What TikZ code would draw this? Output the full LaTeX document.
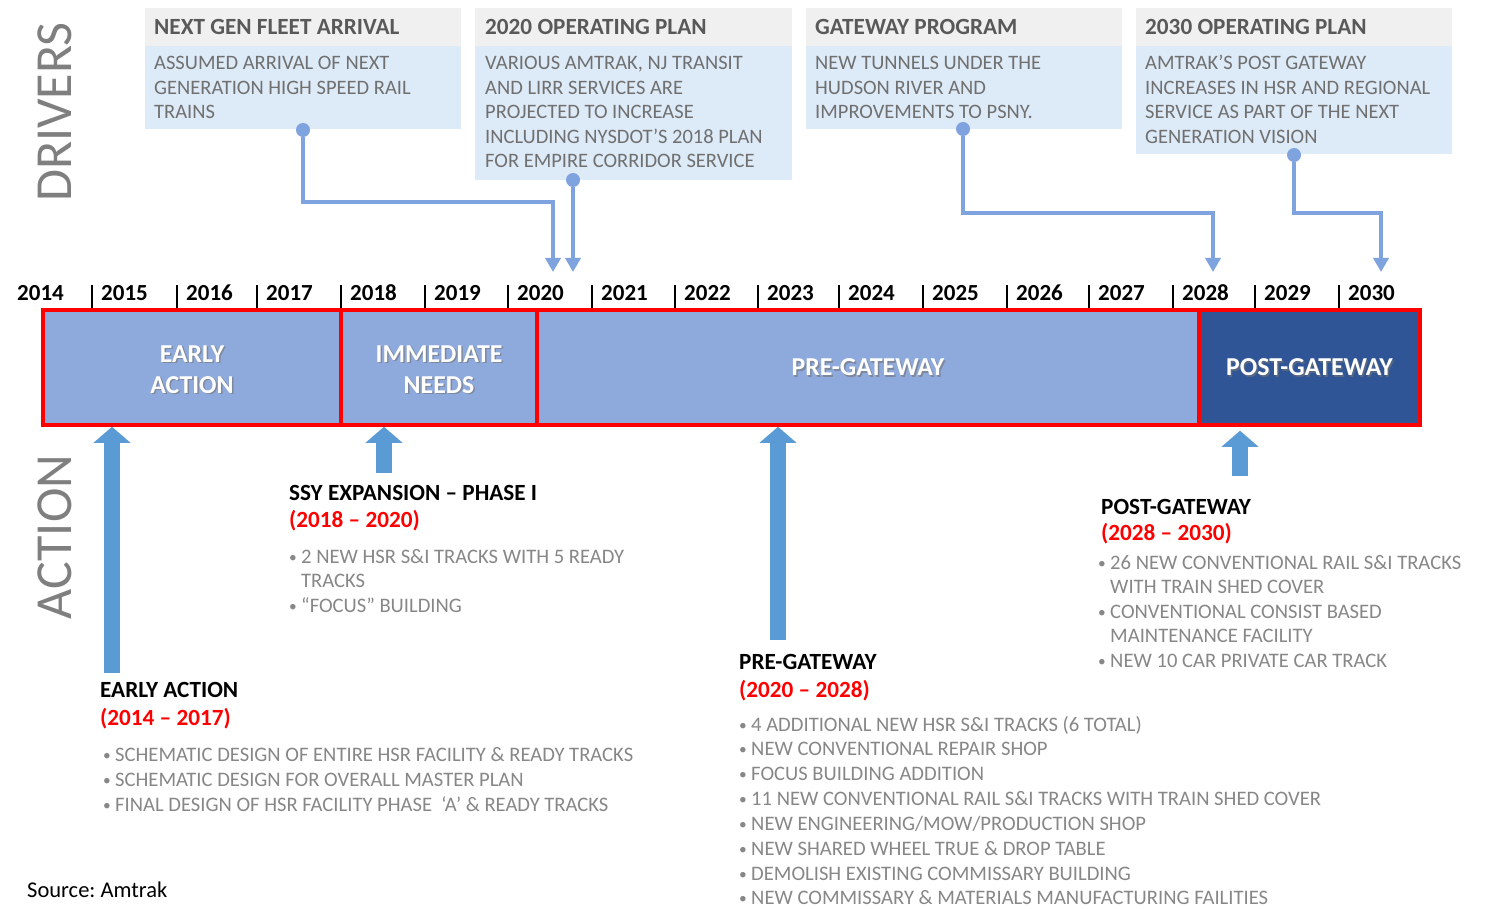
\documentclass[tikz,border=0pt]{standalone}
\usepackage{fontspec}
\setmainfont{Carlito}
\usetikzlibrary{arrows.meta}
\definecolor{hdrbg}{HTML}{F0F0F0}
\definecolor{bodybg}{HTML}{DDEAF7}
\definecolor{hdrtx}{HTML}{595959}
\definecolor{bodytx}{HTML}{707070}
\definecolor{conn}{HTML}{7FA3DF}
\definecolor{tlight}{HTML}{8EA9DB}
\definecolor{tdark}{HTML}{2F5597}
\definecolor{barrow}{HTML}{5B9BD5}
\definecolor{bultx}{HTML}{878787}
\definecolor{sidetx}{HTML}{7F7F7F}
\definecolor{tred}{HTML}{FF0000}
\newcommand\bul{\makebox[12pt][l]{\raisebox{1pt}{\scalebox{0.75}{\textbullet}}}}
\newcommand\bsp{\hspace*{12pt}}
\newcommand\tlines[6]{\foreach \lineitem [count=\i] in {#6} {\node[#5, anchor=base west] (#1\i) at (#2, {#3+#4*(\i-1)}) {\lineitem};}}
\frenchspacing
\begin{document}
\begin{tikzpicture}[x=1pt,y=-1pt,
  hdr/.style={font=\fontsize{23.2}{27}\selectfont\bfseries, text=hdrtx, inner sep=0},
  drv/.style={font=\fontsize{20.5}{25}\selectfont, text=bodytx, inner sep=0},
  yr/.style={font=\fontsize{23}{26}\selectfont\bfseries, inner sep=0},
  ttl/.style={font=\fontsize{23.2}{27}\selectfont\bfseries, inner sep=0},
  redttl/.style={ttl, text=tred},
  bultext/.style={font=\fontsize{20.6}{25}\selectfont, text=bultx, inner sep=0},
  phase/.style={font=\fontsize{25.8}{31}\selectfont\bfseries, text=white, align=center, inner sep=0},
  phaseshadow/.style={phase, text=black!55, opacity=0.6},
  seg/.style={draw=tred, line width=3.5pt, minimum height=115pt, inner sep=0},
  side/.style={font=\fontsize{52}{60}\selectfont, text=sidetx, rotate=90, inner sep=0},
  dot/.style={circle, fill=conn, minimum size=14pt, inner sep=0},
  connector/.style={draw=conn, line width=4pt, -{Triangle[width=15pt,length=14pt]}},
  blockarrow/.style={draw=barrow, line width=16pt, -{Triangle[width=36pt,length=16pt]}},
  tick/.style={line width=2.5pt}
]
\fill[white] (0,0) rectangle (1493,909);
\useasboundingbox (0,0) rectangle (1493,909);

% side labels
\node[side] (drivers) at (55,112) {DRIVERS};
\node[side] (action) at (55,537) {ACTION};

% driver boxes
\foreach \xa/\xb/\yb in {145/461/129, 475/792/180, 806/1122/129, 1136/1452/154} {
  \fill[hdrbg] (\xa,8) rectangle (\xb,46);
  \fill[bodybg] (\xa,46) rectangle (\xb,\yb);
}
\node[hdr, anchor=base west] (h1) at (154,35) {NEXT GEN FLEET ARRIVAL};
\node[hdr, anchor=base west] (h2) at (485,35) {2020 OPERATING PLAN};
\node[hdr, anchor=base west] (h3) at (815,35) {GATEWAY PROGRAM};
\node[hdr, anchor=base west] (h4) at (1145,35) {2030 OPERATING PLAN};
\tlines{da}{154}{70}{24.5}{drv}{{ASSUMED ARRIVAL OF NEXT},{GENERATION HIGH SPEED RAIL},{TRAINS}}
\tlines{db}{485}{70}{24.5}{drv}{{VARIOUS AMTRAK, NJ TRANSIT},{AND LIRR SERVICES ARE},{PROJECTED TO INCREASE},{INCLUDING NYSDOT’S 2018 PLAN},{FOR EMPIRE CORRIDOR SERVICE}}
\tlines{dc}{815}{70}{24.5}{drv}{{NEW TUNNELS UNDER THE},{HUDSON RIVER AND},{IMPROVEMENTS TO PSNY.}}
\tlines{dd}{1145}{70}{24.5}{drv}{{AMTRAK’S POST GATEWAY},{INCREASES IN HSR AND REGIONAL},{SERVICE AS PART OF THE NEXT},{GENERATION VISION}}

% dots
\node[dot] (d1) at (303,130) {};
\node[dot] (d2) at (573,180) {};
\node[dot] (d3) at (963,129) {};
\node[dot] (d4) at (1294,155) {};

% connector ends
\coordinate (t1) at (553,272);
\coordinate (t2) at (573,272);
\coordinate (t3) at (1213,272);
\coordinate (t4) at (1381,272);
\coordinate (j1) at (553,202);
\coordinate (j3) at (1213,213);
\coordinate (j4) at (1381,213);
\draw[connector] (d1) |- (j1) -- (t1);
\draw[connector] (d2) -- (t2);
\draw[connector] (d3) |- (j3) -- (t3);
\draw[connector] (d4) |- (j4) -- (t4);

% years
\node[yr, anchor=base west] (y2014) at (17,300) {2014};
\foreach \tx [count=\k] in {92,177,257,341,425,508,592,675,758,839,923,1007,1089,1173,1255,1339} {
  \pgfmathtruncatemacro\yy{2014+\k}
  \draw[tick] (\tx,285) -- (\tx,310);
  \node[yr, anchor=base west] (y\yy) at (\tx+9,300) {\yy};
}

% timeline segments
\node[seg, fill=tlight, minimum width=298pt] (ea) at (192,367.5) {};
\node[seg, fill=tlight, minimum width=196pt] (im) at (439,367.5) {};
\node[seg, fill=tlight, minimum width=662pt] (pg) at (868,367.5) {};
\node[seg, fill=tdark, minimum width=221pt] (po) at (1309.5,367.5) {};
\node[phaseshadow] (eas) at ([xshift=1.5pt,yshift=-3.5pt]ea.center) {EARLY\\ACTION};
\node[phase] (eat) at ([yshift=-2pt]ea.center) {EARLY\\ACTION};
\node[phaseshadow] (ims) at ([xshift=1.5pt,yshift=-3.5pt]im.center) {IMMEDIATE\\NEEDS};
\node[phase] (imt) at ([yshift=-2pt]im.center) {IMMEDIATE\\NEEDS};
\node[phaseshadow] (pgs) at ([xshift=1.5pt,yshift=-1.5pt]pg.center) {PRE-GATEWAY};
\node[phase] (pgt) at (pg.center) {PRE-GATEWAY};
\node[phaseshadow] (pos) at ([xshift=1.5pt,yshift=-1.5pt]po.center) {POST-GATEWAY};
\node[phase] (pot) at (po.center) {POST-GATEWAY};

% block arrows
\coordinate (a1) at (112,673);
\coordinate (a2) at (384,473);
\coordinate (a3) at (778,640);
\coordinate (a4) at (1240,476);
\draw[blockarrow] (a1) -- (a1 |- ea.south);
\draw[blockarrow] (a2) -- (a2 |- im.south);
\draw[blockarrow] (a3) -- (a3 |- pg.south);
\draw[blockarrow] (a4) -- ([yshift=-4pt]a4 |- po.south);

% SSY expansion
\node[ttl, anchor=base west] (ssyt) at (289,500) {SSY EXPANSION – PHASE I};
\node[redttl, anchor=base west] (ssyr) at (289,527) {(2018 – 2020)};
\tlines{ssyb}{289}{563}{24.5}{bultext}{{\bul 2 NEW HSR S\&I TRACKS WITH 5 READY},{\bsp TRACKS},{\bul “FOCUS” BUILDING}}

% Early action
\node[ttl, anchor=base west] (eat2) at (100,697) {EARLY ACTION};
\node[redttl, anchor=base west] (ear) at (100,725) {(2014 – 2017)};
\tlines{eab}{103}{761}{25}{bultext}{{\bul SCHEMATIC DESIGN OF ENTIRE HSR FACILITY \& READY TRACKS},{\bul SCHEMATIC DESIGN FOR OVERALL MASTER PLAN},{\bul FINAL DESIGN OF HSR FACILITY PHASE \ ‘A’ \& READY TRACKS}}

% Pre-gateway
\node[ttl, anchor=base west] (pgt2) at (739,669) {PRE-GATEWAY};
\node[redttl, anchor=base west] (pgr) at (739,697) {(2020 – 2028)};
\tlines{pgb}{739}{731}{24.85}{bultext}{{\bul 4 ADDITIONAL NEW HSR S\&I TRACKS (6 TOTAL)},{\bul NEW CONVENTIONAL REPAIR SHOP},{\bul FOCUS BUILDING ADDITION},{\bul 11 NEW CONVENTIONAL RAIL S\&I TRACKS WITH TRAIN SHED COVER},{\bul NEW ENGINEERING/MOW/PRODUCTION SHOP},{\bul NEW SHARED WHEEL TRUE \& DROP TABLE},{\bul DEMOLISH EXISTING COMMISSARY BUILDING},{\bul NEW COMMISSARY \& MATERIALS MANUFACTURING FAILITIES}}

% Post-gateway
\node[ttl, anchor=base west] (pot2) at (1101,514) {POST-GATEWAY};
\node[redttl, anchor=base west] (por) at (1101,540) {(2028 – 2030)};
\tlines{pob}{1098}{569}{24.5}{bultext}{{\bul 26 NEW CONVENTIONAL RAIL S\&I TRACKS},{\bsp WITH TRAIN SHED COVER},{\bul CONVENTIONAL CONSIST BASED},{\bsp MAINTENANCE FACILITY},{\bul NEW 10 CAR PRIVATE CAR TRACK}}

% source
\node[font=\fontsize{22.5}{25}\selectfont, inner sep=0, anchor=base west] (src) at (27,897) {Source: Amtrak};
\end{tikzpicture}
\end{document}
